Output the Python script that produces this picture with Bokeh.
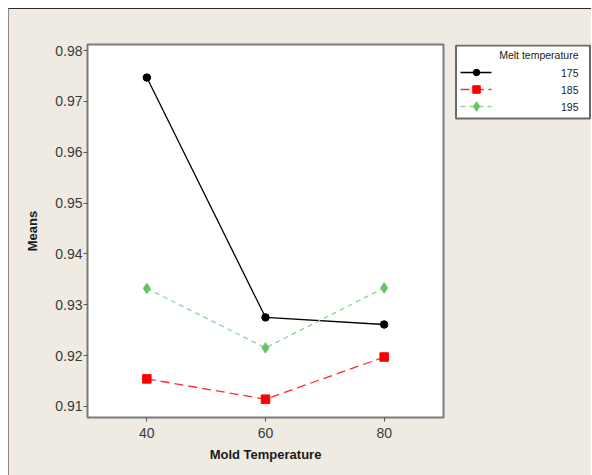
from bokeh.plotting import figure
from bokeh.layouts import row
from bokeh.models import Range1d, FixedTicker
from bokeh.core.properties import value
from bokeh.embed import file_html
from bokeh.resources import INLINE

# ---- data ----
mold_temp = [40, 60, 80]
melt_labels = ["175", "185", "195"]
means_175 = [0.9747, 0.9275, 0.9261]
means_185 = [0.9154, 0.9114, 0.9197]
means_195 = [0.9332, 0.9215, 0.9333]
x_ticks = [40, 60, 80]
y_ticks = [0.91, 0.92, 0.93, 0.94, 0.95, 0.96, 0.97, 0.98]
legend_title = "Melt temperature"
x_label = "Mold Temperature"
y_label = "Means"

series = [means_175, means_185, means_195]
colors = ["#000000", "#ff0000", "#66c266"]
line_colors = ["#000000", "#ff2a2a", "#8fd48f"]
dashes = ["solid", "9 5", "5 4"]
markers = ["circle", "square", "diamond"]
msizes = [7.5, 8.5, 10.5]

BG = "#efebe2"
FONT = "Liberation Sans"
H = 466
TOP, BOTTOM = 35, 58

p = figure(width=445, height=H, output_backend="svg", toolbar_location=None,
           x_range=Range1d(30, 90), y_range=Range1d(0.9078, 0.9812),
           min_border_left=78, min_border_right=11, min_border_top=TOP, min_border_bottom=BOTTOM)
p.background_fill_color = "white"
p.border_fill_color = BG
p.outline_line_color = "#7a7a7a"
p.outline_line_width = 2
p.grid.visible = False

for vals, c, lc, d, m, s in zip(series, colors, line_colors, dashes, markers, msizes):
    p.line(mold_temp, vals, line_color=lc, line_width=1.3, line_dash=d)
    p.scatter(mold_temp, vals, marker=m, size=s, fill_color=c, line_color=c)

for ax in (p.xaxis[0], p.yaxis[0]):
    ax.axis_line_color = None
    ax.major_tick_line_color = "#555555"
    ax.major_tick_in = 0
    ax.major_tick_out = 4
    ax.minor_tick_line_color = None
    ax.major_label_text_font = FONT
    ax.major_label_text_font_size = "14px"
    ax.major_label_text_color = "#3a3a3a"
    ax.axis_label_text_font = FONT
    ax.axis_label_text_font_size = "13px"
    ax.axis_label_text_font_style = "bold"
    ax.axis_label_text_color = "#1a1a1a"

p.xaxis.ticker = FixedTicker(ticks=x_ticks)
p.yaxis.ticker = FixedTicker(ticks=y_ticks)
p.xaxis.axis_label = x_label
p.yaxis.axis_label = y_label
p.xaxis.major_label_standoff = 6
p.xaxis.axis_label_standoff = 6
p.yaxis.major_label_standoff = 1
p.yaxis.axis_label_standoff = 12

# ---- legend panel (separate figure, pixel-like coordinates, y downwards) ----
LW = 137
FRAME_H = H - TOP - BOTTOM
lg = figure(width=LW, height=H, output_backend="svg", toolbar_location=None,
            x_range=Range1d(0, LW), y_range=Range1d(FRAME_H, 0),
            min_border_left=0, min_border_right=0, min_border_top=TOP, min_border_bottom=BOTTOM)
lg.background_fill_color = BG
lg.border_fill_color = BG
lg.outline_line_color = None
lg.grid.visible = False
lg.axis.visible = False

lg.quad(left=[1.5], right=[135.5], top=[1], bottom=[74], fill_color="white",
        line_color="#6a6a6a", line_width=2)
lg.text(x=[124], y=[10], text=[legend_title], text_font=value(FONT), text_font_size="10.5px",
        text_align="right", text_baseline="middle", text_color="#222222")
for i, (lab, c, lc, d, m, s) in enumerate(zip(melt_labels, colors, line_colors, dashes, markers, msizes)):
    yy = 28 + i * 17
    lg.line([6, 37], [yy, yy], line_color=lc, line_width=1.3, line_dash=d)
    lg.scatter([22], [yy], marker=m, size=s - 1, fill_color=c, line_color=c)
    lg.text(x=[124], y=[yy], text=[lab], text_font=value(FONT), text_font_size="10.5px",
            text_align="right", text_baseline="middle", text_color="#222222")

layout = row(p, lg, spacing=0,
             styles={"margin-left": "8px", "margin-top": "8px", "background-color": BG,
                     "border-top": "1px solid #2a2a2a", "border-left": "1px solid #8a8a8a"})
open("out.html", "w").write(file_html(layout, INLINE))
